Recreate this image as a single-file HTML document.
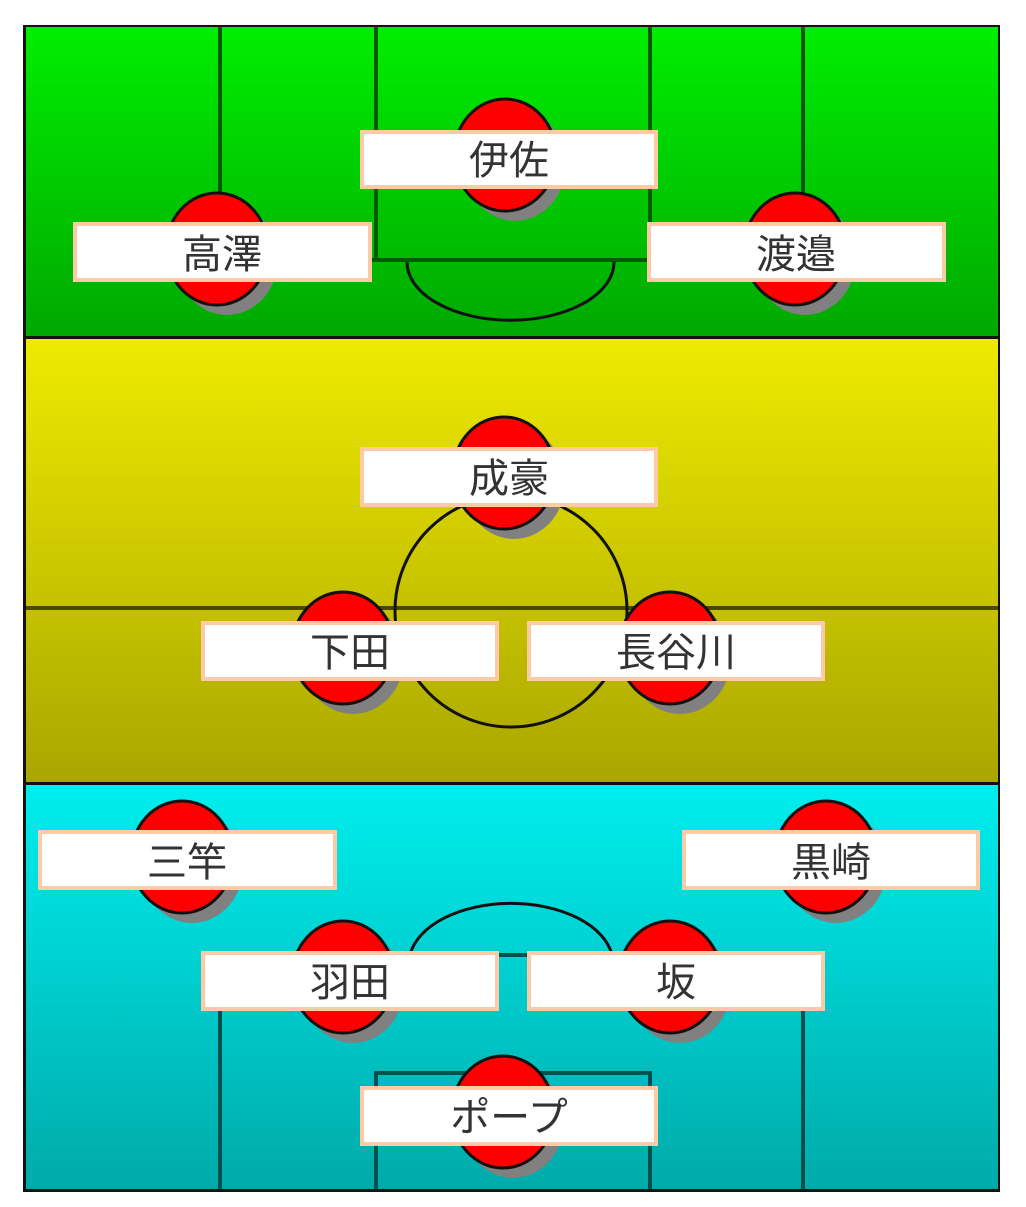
<!DOCTYPE html>
<html><head><meta charset="utf-8"><style>
body{margin:0;background:#fff;width:1026px;height:1207px;overflow:hidden}
svg{display:block}
text{font-family:"Liberation Sans","Noto Sans CJK JP",sans-serif;font-size:40px;fill:#333;text-anchor:middle}
</style></head><body>
<svg width="1026" height="1207" viewBox="0 0 1026 1207">
<defs>
<linearGradient id="g" x1="0" y1="0" x2="0" y2="1"><stop offset="0" stop-color="#00ee00"/><stop offset="1" stop-color="#00a800"/></linearGradient>
<linearGradient id="y" x1="0" y1="0" x2="0" y2="1"><stop offset="0" stop-color="#eeea00"/><stop offset="1" stop-color="#aaa600"/></linearGradient>
<linearGradient id="c" x1="0" y1="0" x2="0" y2="1"><stop offset="0" stop-color="#00eeee"/><stop offset="1" stop-color="#00aaaa"/></linearGradient>
<clipPath id="cg"><rect x="26" y="27" width="972" height="309"/></clipPath>
<clipPath id="cy"><rect x="26" y="339" width="972" height="443"/></clipPath>
<clipPath id="cc"><rect x="26" y="785" width="972" height="404"/></clipPath>
</defs>
<rect x="24.5" y="26.5" width="974" height="1164" fill="#111" stroke="#111" stroke-width="3"/>
<rect x="26" y="27" width="972" height="309" fill="url(#g)"/>
<rect x="26" y="339" width="972" height="443" fill="url(#y)"/>
<rect x="26" y="785" width="972" height="404" fill="url(#c)"/>
<g clip-path="url(#cg)" fill="none">
<g stroke="#005a00" stroke-width="4">
<line x1="220" y1="27" x2="220" y2="260"/><line x1="803" y1="27" x2="803" y2="260"/>
<line x1="376" y1="27" x2="376" y2="260"/><line x1="650" y1="27" x2="650" y2="260"/>
<line x1="220" y1="260" x2="803" y2="260"/></g>
<path d="M407 262 A103 58 0 0 0 614 262" stroke="#111" stroke-width="3"/>
</g>
<g clip-path="url(#cy)" fill="none">
<line x1="26" y1="608" x2="998" y2="608" stroke="#4a4800" stroke-width="4"/>
<ellipse cx="511" cy="611" rx="116" ry="116" stroke="#111" stroke-width="3"/>
</g>
<g clip-path="url(#cc)" fill="none">
<g stroke="#005050" stroke-width="4">
<line x1="220" y1="955" x2="803" y2="955"/>
<line x1="220" y1="955" x2="220" y2="1190"/><line x1="803" y1="955" x2="803" y2="1190"/>
<path d="M376 1190 V1073 H650 V1190"/></g>
<path d="M410 955 A102 60 0 0 1 612 955" stroke="#111" stroke-width="3"/>
</g>
<g>
<g fill="#808080">
<ellipse cx="515" cy="165" rx="51" ry="56"/><ellipse cx="227" cy="259" rx="51" ry="56"/><ellipse cx="805" cy="259" rx="51" ry="56"/>
<ellipse cx="514" cy="483" rx="51" ry="56"/><ellipse cx="353" cy="658" rx="51" ry="56"/><ellipse cx="680" cy="658" rx="51" ry="56"/>
<ellipse cx="192" cy="867" rx="51" ry="56"/><ellipse cx="836" cy="867" rx="51" ry="56"/><ellipse cx="353" cy="987" rx="51" ry="56"/>
<ellipse cx="680" cy="987" rx="51" ry="56"/><ellipse cx="513" cy="1122" rx="51" ry="56"/></g>
<g fill="#ff0000" stroke="#111" stroke-width="3">
<ellipse cx="505" cy="155" rx="51" ry="56"/><ellipse cx="217" cy="249" rx="51" ry="56"/><ellipse cx="795" cy="249" rx="51" ry="56"/>
<ellipse cx="504" cy="473" rx="51" ry="56"/><ellipse cx="343" cy="648" rx="51" ry="56"/><ellipse cx="670" cy="648" rx="51" ry="56"/>
<ellipse cx="182" cy="857" rx="51" ry="56"/><ellipse cx="826" cy="857" rx="51" ry="56"/><ellipse cx="343" cy="977" rx="51" ry="56"/>
<ellipse cx="670" cy="977" rx="51" ry="56"/><ellipse cx="503" cy="1112" rx="51" ry="56"/></g>
</g>
<g fill="#fff" stroke="#fdcaa8" stroke-width="4">
<rect x="362" y="132" width="294" height="55"/><rect x="75" y="224" width="295" height="56"/><rect x="649" y="224" width="295" height="56"/>
<rect x="362" y="449" width="294" height="56"/><rect x="203" y="623" width="294" height="56"/><rect x="529" y="623" width="294" height="56"/>
<rect x="40" y="832" width="295" height="56"/><rect x="684" y="832" width="294" height="56"/><rect x="203" y="953" width="294" height="56"/>
<rect x="529" y="953" width="294" height="56"/><rect x="362" y="1088" width="294" height="56"/>
</g>
<text x="509" y="174">伊佐</text><text x="222" y="268">高澤</text><text x="796" y="268">渡邉</text>
<text x="509" y="492">成豪</text><text x="350" y="666">下田</text><text x="676" y="666">長谷川</text>
<text x="187" y="876">三竿</text><text x="831" y="876">黒崎</text><text x="350" y="996">羽田</text>
<text x="676" y="996">坂</text><text x="509" y="1131">ポープ</text>
</svg>
</body></html>
